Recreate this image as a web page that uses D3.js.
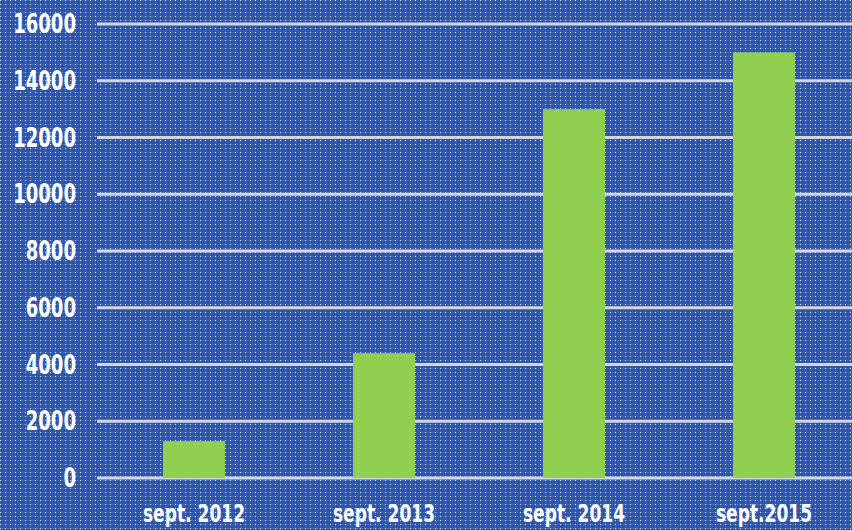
<!DOCTYPE html>
<html>
<head>
<meta charset="utf-8">
<script src="https://cdn.jsdelivr.net/npm/d3@7"></script>
<style>
  body { margin: 0; background: #2e54a7; }
  svg { display: block; }
</style>
</head>
<body>
<div class="board"></div>
<script>
// chart values
var categories = ['sept. 2012', 'sept. 2013', 'sept. 2014', 'sept.2015'];
var values = [1300, 4400, 13000, 15000];
var yTicks = [0, 2000, 4000, 6000, 8000, 10000, 12000, 14000, 16000];

var opts = {
  width: 852,
  height: 530,
  left: 99,
  right: 859,
  top: 24,
  bottom: 478
};

var svg = d3.select('.board')
  .append('svg')
  .attr('width', opts.width)
  .attr('height', opts.height);

// dotted blue background
var pat = svg.append('defs').append('pattern')
  .attr('id', 'dots')
  .attr('width', 5)
  .attr('height', 4)
  .attr('patternUnits', 'userSpaceOnUse');
pat.append('rect').attr('width', 5).attr('height', 4).attr('fill', '#2e53a7');
pat.append('rect').attr('x', 0).attr('y', 0).attr('width', 5).attr('height', 1).attr('fill', '#3d64b6');
pat.append('rect').attr('x', 0).attr('y', 0).attr('width', 1).attr('height', 4).attr('fill', '#3a60b2');
pat.append('rect').attr('x', 0).attr('y', 0).attr('width', 1).attr('height', 1).attr('fill', '#c4d2f2');

svg.append('rect')
  .attr('width', opts.width)
  .attr('height', opts.height)
  .attr('fill', 'url(#dots)');

var x = d3.scaleBand()
  .domain(categories)
  .range([opts.left, opts.right])
  .paddingInner(0.674)
  .paddingOuter(0.337);

var y = d3.scaleLinear()
  .domain([0, 16000])
  .range([opts.bottom, opts.top]);

// gridlines
svg.append('g')
  .selectAll('line')
  .data(yTicks)
  .enter().append('line')
  .attr('x1', 97)
  .attr('x2', opts.width)
  .attr('y1', function(d) { return y(d); })
  .attr('y2', function(d) { return y(d); })
  .attr('stroke', '#d4d6dc')
  .attr('stroke-width', 3);

// bars
svg.append('g')
  .selectAll('rect')
  .data(values)
  .enter().append('rect')
  .attr('x', function(d, i) { return x(categories[i]); })
  .attr('width', x.bandwidth())
  .attr('y', function(d) { return y(d); })
  .attr('height', function(d) { return y(0) - y(d); })
  .attr('fill', '#90cf4f');

// y labels (text is stretched vertically in the original)
var font = '"DejaVu Sans Condensed", "DejaVu Sans", sans-serif';
svg.append('g')
  .selectAll('text')
  .data(yTicks)
  .enter().append('text')
  .attr('transform', function(d) { return 'translate(76,' + (y(d) + 9) + ') scale(1.03,1.35)'; })
  .attr('text-anchor', 'end')
  .attr('font-family', font)
  .attr('font-weight', 'bold')
  .attr('font-size', 19.5)
  .attr('fill', '#ffffff')
  .text(function(d) { return d; });

// x labels
svg.append('g')
  .selectAll('text')
  .data(categories)
  .enter().append('text')
  .attr('transform', function(d) { return 'translate(' + (x(d) + x.bandwidth() / 2) + ',522) scale(1,1.35)'; })
  .attr('text-anchor', 'middle')
  .attr('font-family', font)
  .attr('font-weight', 'bold')
  .attr('font-size', 19)
  .attr('fill', '#ffffff')
  .text(function(d) { return d; });
</script>
</body>
</html>
